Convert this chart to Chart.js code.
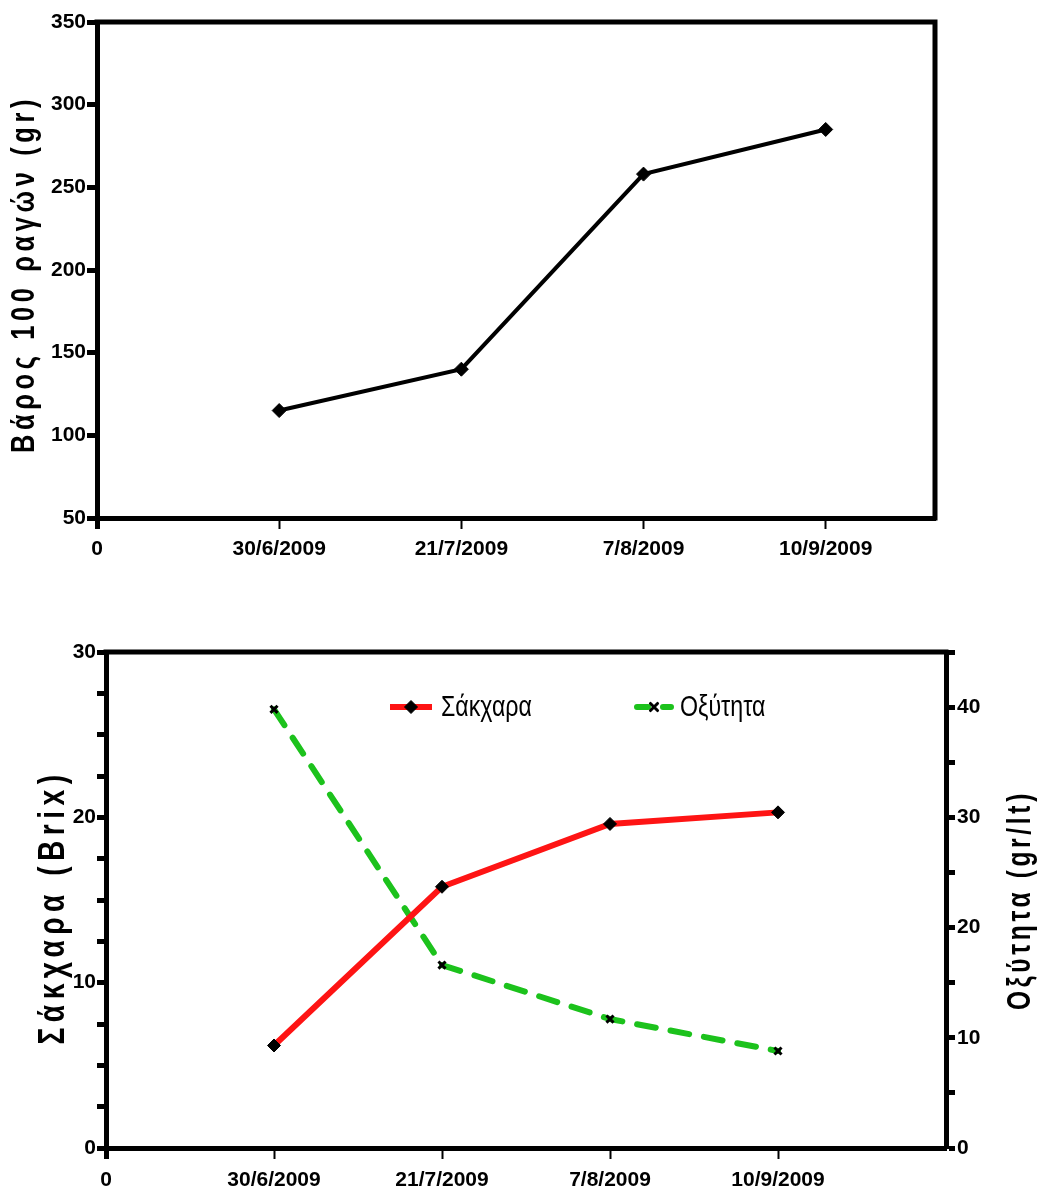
<!DOCTYPE html>
<html>
<head>
<meta charset="utf-8">
<script src="https://cdn.jsdelivr.net/npm/chart.js@4.4.1/dist/chart.umd.min.js"></script>
<style>
  body { margin: 0; background: #fff; }
  canvas { position: absolute; left: 0; }
</style>
</head>
<body>
<canvas id="weight_canvas" width="1044" height="580" style="top:0"></canvas>
<canvas id="quality_canvas" width="1044" height="593" style="top:600px"></canvas>
<script>
// sampling dates, placed at x = 1..4
var sampleDates = ['30/6/2009', '21/7/2009', '7/8/2009', '10/9/2009'];
var sampleX = [1, 2, 3, 4];
// weight of 100 berries (gr)
var berryWeight = [115, 140, 258, 285];
// sugar (Brix) and acidity (gr/lt)
var sugarBrix = [6.2, 15.8, 19.6, 20.3];
var acidity = [39.8, 16.6, 11.7, 8.8];

var weightTicks = [50, 100, 150, 200, 250, 300, 350];

var FONT = "'Liberation Sans', Arial, sans-serif";
var Y_FONT = { family: FONT, size: 21, weight: 'bold' };
var X_FONT = { family: FONT, size: 21, weight: 'bold' };

function points(values) {
  return sampleX.map(function (x, i) { return { x: x, y: values[i] }; });
}
function dateLabel(v) {
  if (v === 0) return '0';
  return sampleDates[v - 1] || '';
}
function fixedWidth(w) { return function (scale) { scale.width = w; }; }
function fixedHeight(h) { return function (scale) { scale.height = h; }; }
function keepTicks(maxValue) {
  return function (scale) {
    scale.ticks = scale.ticks.filter(function (t) {
      return Number.isInteger(t.value) && t.value <= maxValue;
    });
  };
}
function xTickWidth(c) { return c.tick && c.tick.value === 0 ? 5 : 2; }

// closes the box on the top and right side of the plot area
var framePlugin = {
  id: 'frame',
  beforeDatasetsDraw: function (chart, args, opts) {
    var ctx = chart.ctx, a = chart.chartArea;
    ctx.save();
    ctx.strokeStyle = '#000';
    ctx.lineWidth = 5;
    ctx.lineCap = 'square';
    ctx.beginPath();
    ctx.moveTo(a.left, a.top);
    ctx.lineTo(a.right, a.top);
    if (opts.right !== false) ctx.lineTo(a.right, a.bottom);
    ctx.stroke();
    ctx.restore();
  }
};

// vertical axis titles: letter-spaced, squeezed to a set length, reading bottom to top
var titlePlugin = {
  id: 'axisTitles',
  afterDraw: function (chart, args, opts) {
    var ctx = chart.ctx, a = chart.chartArea;
    (opts.items || []).forEach(function (item) {
      ctx.save();
      ctx.font = item.font;
      ctx.letterSpacing = item.spacing || '0px';
      var w = ctx.measureText(item.text).width;
      ctx.translate(item.x, (a.top + a.bottom) / 2 + (item.dy || 0));
      ctx.rotate(-Math.PI / 2);
      ctx.scale(item.length / w, 1);
      ctx.fillStyle = '#000';
      ctx.textAlign = 'center';
      ctx.textBaseline = 'middle';
      ctx.fillText(item.text, 0, 0);
      ctx.restore();
    });
  }
};

// legend drawn inside the plot area: line sample with marker, then label
var insideLegend = {
  id: 'insideLegend',
  afterDatasetsDraw: function (chart, args, opts) {
    var ctx = chart.ctx, a = chart.chartArea;
    chart.data.datasets.forEach(function (ds, i) {
      var it = opts.items[i];
      var x0 = a.left + it.dx, y = a.top + opts.top;
      ctx.save();
      ctx.strokeStyle = ds.borderColor;
      ctx.lineWidth = ds.borderWidth;
      ctx.lineCap = ds.borderCapStyle || 'butt';
      ctx.setLineDash(ds.borderDash || []);
      ctx.lineDashOffset = it.dashOffset || 0;
      ctx.beginPath();
      ctx.moveTo(x0, y);
      ctx.lineTo(x0 + it.len, y);
      ctx.stroke();
      ctx.setLineDash([]);
      ctx.fillStyle = ds.pointBackgroundColor;
      ctx.strokeStyle = ds.pointBorderColor;
      ctx.lineWidth = ds.pointBorderWidth;
      Chart.helpers.drawPoint(ctx, {
        pointStyle: ds.pointStyle, radius: ds.pointRadius,
        borderWidth: ds.pointBorderWidth, rotation: 0
      }, x0 + it.len / 2, y);
      ctx.translate(x0 + it.len + 9, y + 1);
      ctx.scale(opts.squeeze, 1);
      ctx.fillStyle = '#000';
      ctx.font = opts.font;
      ctx.textAlign = 'left';
      ctx.textBaseline = 'middle';
      ctx.fillText(ds.label, 0, 0);
      ctx.restore();
    });
  }
};

new Chart(document.getElementById('weight_canvas'), {
  type: 'line',
  data: {
    datasets: [{
      label: 'Βάρος 100 ραγών',
      data: points(berryWeight),
      borderColor: '#000',
      borderWidth: 4,
      pointStyle: 'rectRot',
      pointRadius: 7,
      pointBackgroundColor: '#000',
      pointBorderColor: '#000',
      pointBorderWidth: 1
    }]
  },
  options: {
    responsive: false,
    animation: false,
    devicePixelRatio: 1,
    layout: { padding: { top: 22, right: 109, bottom: 0, left: 0 } },
    plugins: {
      legend: { display: false },
      tooltip: { enabled: false },
      axisTitles: {
        items: [{ text: 'Βάρος 100 ραγών (gr)', x: 25, dy: 4, length: 358, font: 'bold 33px ' + FONT, spacing: '6px' }]
      }
    },
    scales: {
      x: {
        type: 'linear', min: 0, max: 4.6,
        ticks: { stepSize: 1, callback: dateLabel, font: X_FONT, color: '#000', padding: 8, maxRotation: 0, autoSkip: false },
        grid: { drawOnChartArea: false, tickLength: 11, tickWidth: xTickWidth, tickColor: '#000' },
        border: { width: 5, color: '#000' },
        afterBuildTicks: keepTicks(4),
        afterFit: fixedHeight(62)
      },
      y: {
        min: 50, max: 350,
        afterBuildTicks: function (s) { s.ticks = weightTicks.map(function (v) { return { value: v }; }); },
        ticks: { font: Y_FONT, color: '#000', padding: 1 },
        grid: { drawOnChartArea: false, tickLength: 10, tickWidth: 5, tickColor: '#000' },
        border: { width: 5, color: '#000' },
        afterFit: fixedWidth(97)
      }
    }
  },
  plugins: [framePlugin, titlePlugin]
});

new Chart(document.getElementById('quality_canvas'), {
  type: 'line',
  data: {
    datasets: [{
      label: 'Σάκχαρα',
      data: points(sugarBrix),
      yAxisID: 'y',
      borderColor: '#fe1414',
      borderWidth: 6,
      pointStyle: 'rectRot',
      pointRadius: 6.5,
      pointBackgroundColor: '#000',
      pointBorderColor: '#000',
      pointBorderWidth: 1
    }, {
      label: 'Οξύτητα',
      data: points(acidity),
      yAxisID: 'y1',
      borderColor: '#1cc21c',
      borderWidth: 6,
      borderDash: [19, 15],
      borderCapStyle: 'round',
      pointStyle: 'crossRot',
      pointRadius: 5,
      pointBackgroundColor: '#000',
      pointBorderColor: '#000',
      pointBorderWidth: 3
    }]
  },
  options: {
    responsive: false,
    animation: false,
    devicePixelRatio: 1,
    layout: { padding: { top: 52, right: 0, bottom: 0, left: 0 } },
    plugins: {
      legend: { display: false },
      tooltip: { enabled: false },
      frame: { right: false },
      insideLegend: {
        top: 55,
        font: '29px ' + FONT,
        squeeze: 0.8,
        items: [{ dx: 284, len: 42 }, { dx: 531, len: 34, dashOffset: 8 }]
      },
      axisTitles: {
        items: [
          { text: 'Σάκχαρα (Brix)', x: 54, dy: 7, length: 275, font: 'bold 36px ' + FONT, spacing: '7px' },
          { text: 'Οξύτητα (gr/lt)', x: 1021, dy: 0, length: 220, font: 'bold 33px ' + FONT, spacing: '5px' }
        ]
      }
    },
    scales: {
      x: {
        type: 'linear', min: 0, max: 5,
        ticks: { stepSize: 1, callback: dateLabel, font: X_FONT, color: '#000', padding: 9, maxRotation: 0, autoSkip: false },
        grid: { drawOnChartArea: false, tickLength: 11, tickWidth: xTickWidth, tickColor: '#000' },
        border: { width: 5, color: '#000' },
        afterBuildTicks: keepTicks(4),
        afterFit: fixedHeight(45)
      },
      y: {
        position: 'left', min: 0, max: 30,
        ticks: { stepSize: 2.5, font: Y_FONT, color: '#000', padding: 1,
                 callback: function (v) { return v % 10 === 0 ? v : ''; } },
        grid: { drawOnChartArea: false, tickLength: 9, tickWidth: 5, tickColor: '#000' },
        border: { width: 5, color: '#000' },
        afterFit: fixedWidth(106)
      },
      y1: {
        position: 'right', min: 0, max: 45,
        ticks: { stepSize: 2.5, font: Y_FONT, color: '#000', padding: 2,
                 callback: function (v) { return v % 10 === 0 ? v : ''; } },
        grid: { drawOnChartArea: false, tickLength: 9, tickWidth: 5, tickColor: '#000' },
        border: { width: 5, color: '#000' },
        afterFit: fixedWidth(98)
      }
    }
  },
  plugins: [framePlugin, titlePlugin, insideLegend]
});
</script>
</body>
</html>
